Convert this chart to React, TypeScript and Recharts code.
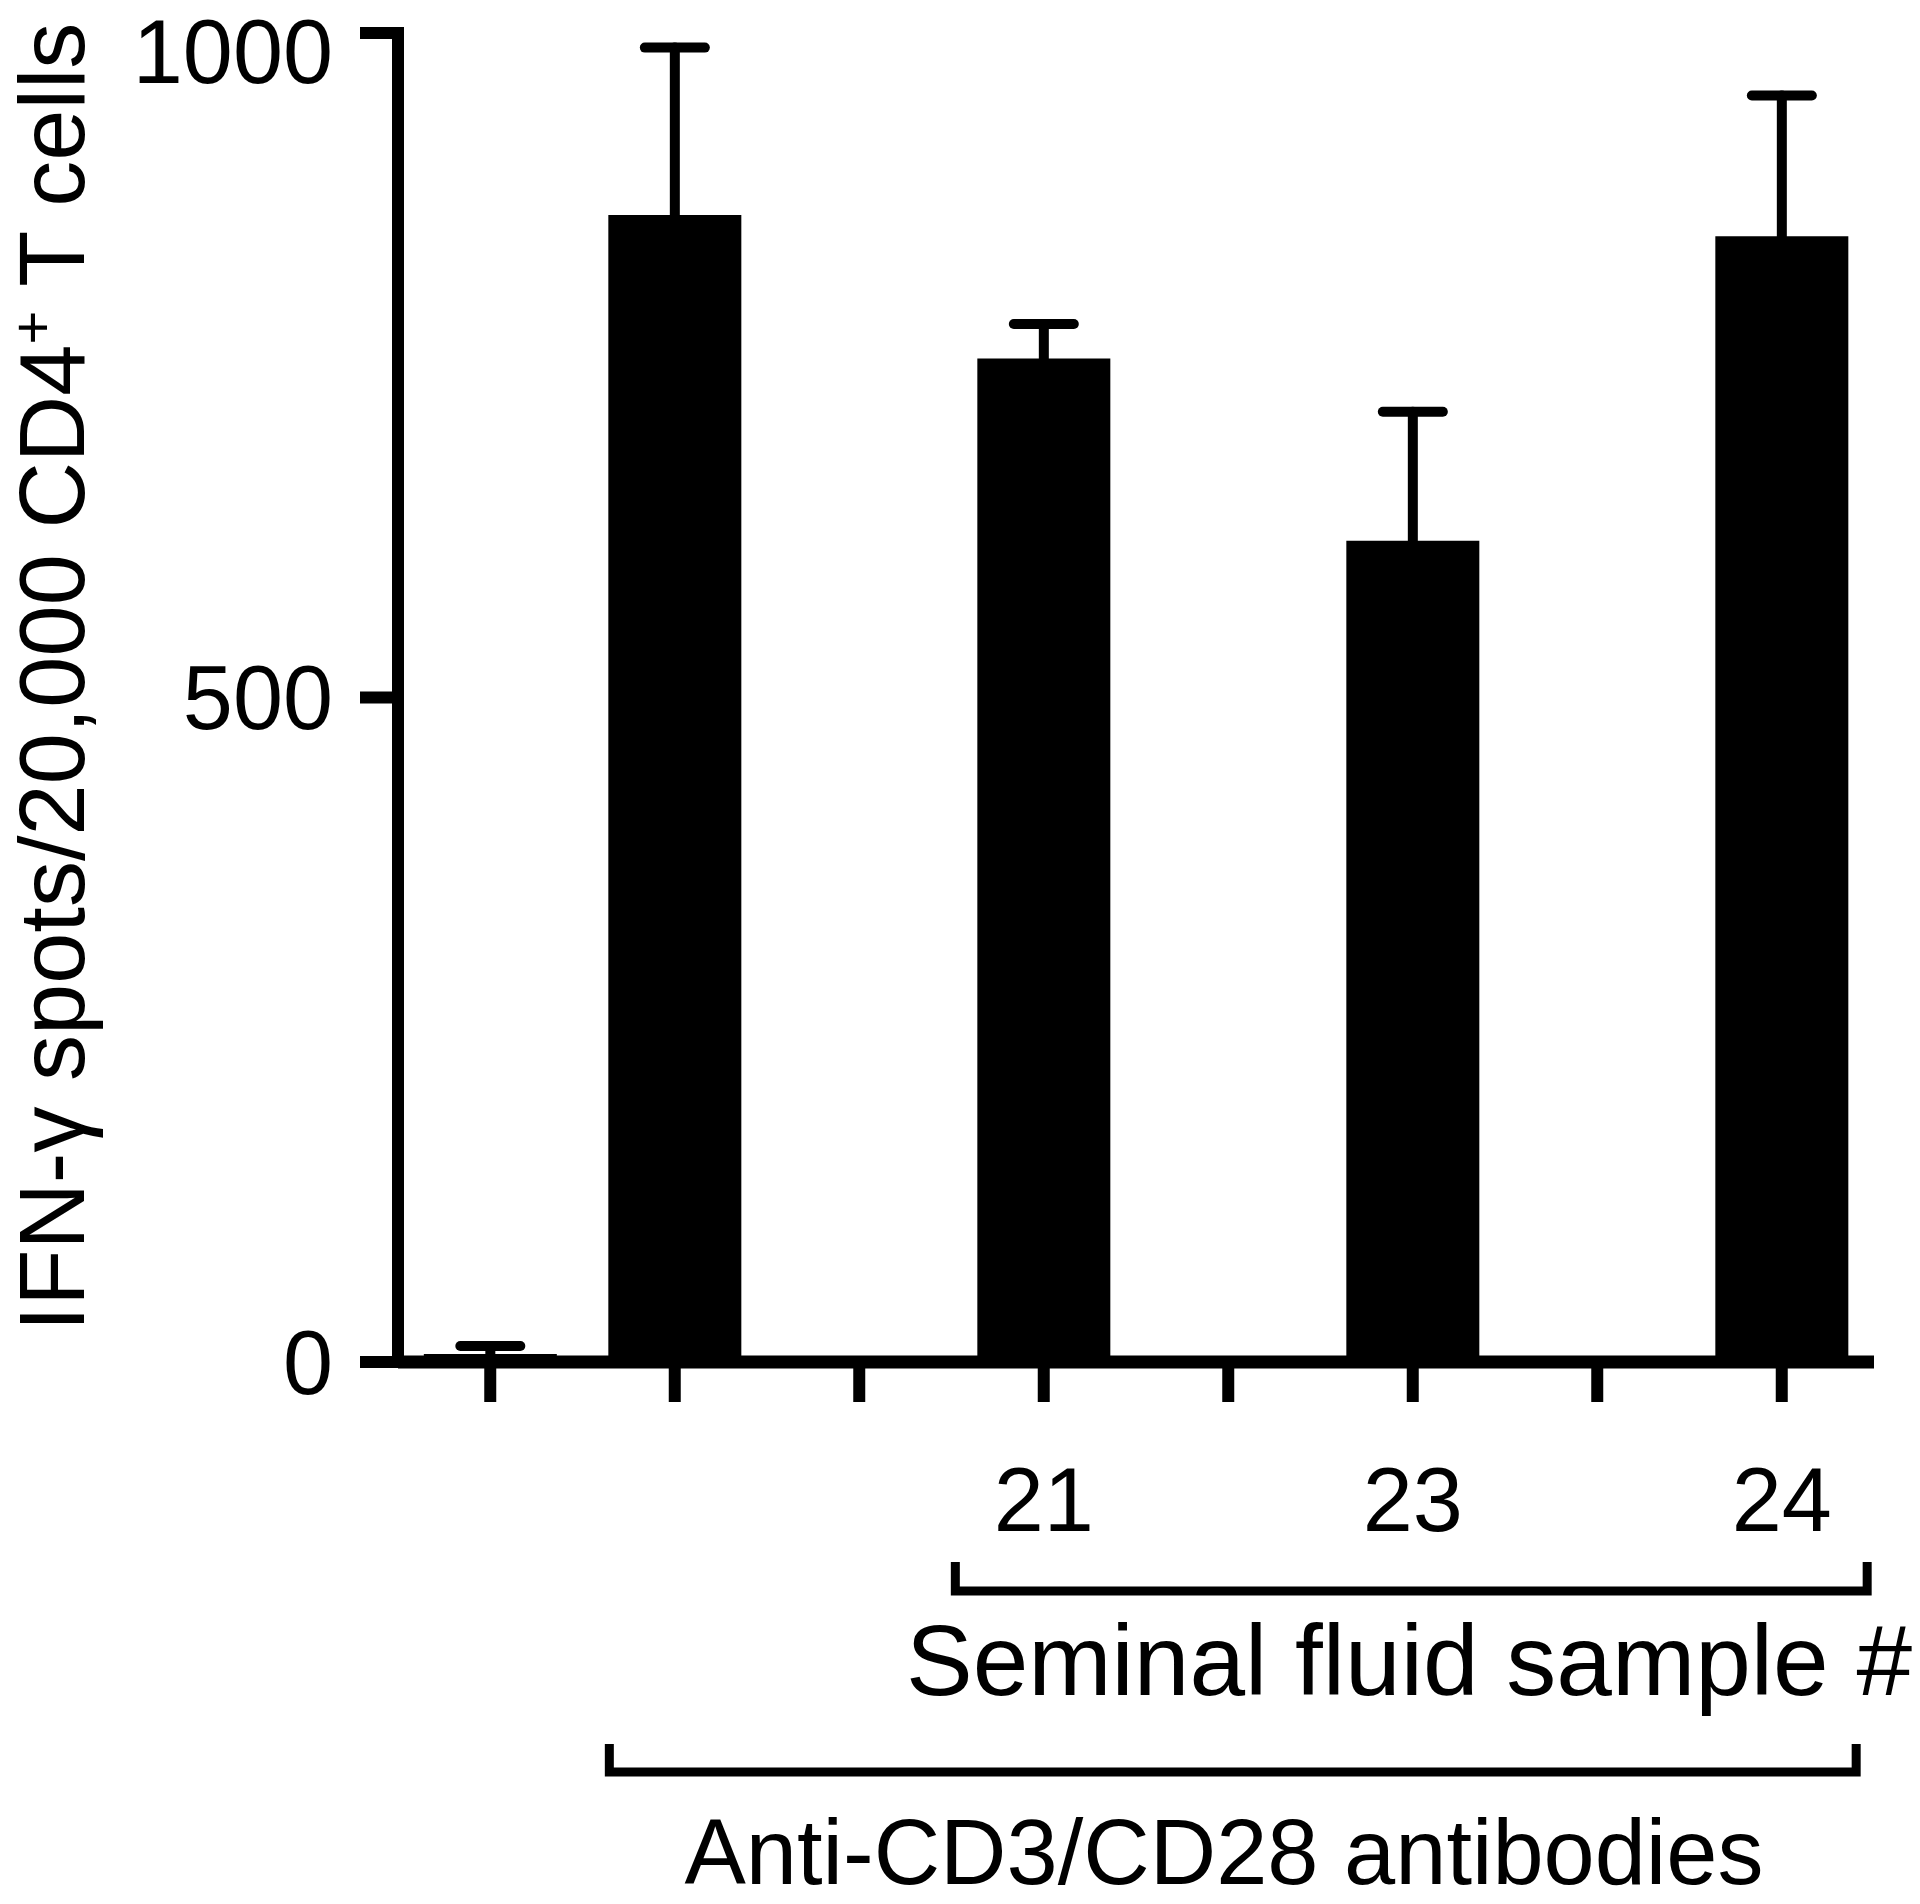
import { Bar, BarChart, ErrorBar, XAxis, YAxis } from "recharts";

const groups = ["Unstimulated", "Anti-CD3/CD28", "gap-a", "SF21", "gap-b", "SF23", "gap-c", "SF24"];
const tickLabels = ["", "", "", "21", "", "23", "", "24"];
const spots = [6, 863, null, 755, null, 618, null, 847];
const spotsErr = [6, 126, null, 26, null, 97, null, 106];
const yTicks = [0, 500, 1000];

const data = groups.map((g, i) => ({
  group: g,
  spots: spots[i],
  err: spotsErr[i] == null ? undefined : [0, spotsErr[i]],
}));

const W = 1920;
const H = 1904;
const FONT = '"Liberation Sans", Arial, Helvetica, sans-serif';

// plot box (also used for the brackets under the axis)
const PLOT_LEFT = 398;
const PLOT_RIGHT = 1874;
const PLOT_TOP = 33;
const PLOT_BOTTOM = 1362;
const BAND = (PLOT_RIGHT - PLOT_LEFT) / groups.length;
const SIDE_GAP = 0.14; // recharts puts this on each side of a bar
const barLeft = (i: number) => PLOT_LEFT + i * BAND + BAND * SIDE_GAP;
const barRight = (i: number) => barLeft(i) + BAND * (1 - 2 * SIDE_GAP);

function SampleTick({ x, y, payload }: any) {
  const label = tickLabels[groups.indexOf(payload.value)];
  if (!label) return null;
  return (
    <text x={x} y={y} dy={129} textAnchor="middle" fontSize={90} fontFamily={FONT} fill="#000">
      {label}
    </text>
  );
}

function YTitle() {
  return (
    <text
      x={84}
      y={677}
      transform="rotate(-90, 84, 677)"
      textAnchor="middle"
      fontSize={92}
      fontFamily={FONT}
      fill="#000"
    >
      IFN-γ spots/20,000 CD4
      <tspan baselineShift="super" fontSize={58}>+</tspan> T cells
    </text>
  );
}

function Brackets() {
  const semL = barLeft(3) - 22;
  const semR = barRight(7) + 19;
  const antiL = barLeft(1) + 1;
  const antiR = barRight(7) + 8;
  return (
    <svg
      width={W}
      height={H}
      style={{ position: "absolute", left: 0, top: 0, pointerEvents: "none" }}
    >
      <path d={`M${semL},1562 V1591 H${semR} V1562`} fill="none" stroke="#000" strokeWidth={9} />
      <text x={906} y={1695} fontSize={100} fontFamily={FONT} fill="#000">
        Seminal fluid sample #
      </text>
      <path d={`M${antiL},1744 V1772 H${antiR} V1744`} fill="none" stroke="#000" strokeWidth={9} />
      <text x={1224} y={1884} textAnchor="middle" fontSize={92} fontFamily={FONT} fill="#000">
        Anti-CD3/CD28 antibodies
      </text>
    </svg>
  );
}

export default function App() {
  return (
    <div style={{ position: "absolute", left: 0, top: 0, width: W, height: H, background: "#fff" }}>
      <style>{`.recharts-errorBar line:nth-child(3){display:none}`}</style>
      <BarChart
        width={W}
        height={H}
        data={data}
        margin={{ top: PLOT_TOP, right: W - PLOT_RIGHT, left: 0, bottom: H - PLOT_BOTTOM - 200 }}
        barCategoryGap={`${SIDE_GAP * 100}%`}
      >
        <XAxis
          dataKey="group"
          height={200}
          interval={0}
          tickSize={40}
          tickMargin={0}
          tick={<SampleTick />}
          axisLine={{ stroke: "#000", strokeWidth: 13 }}
          tickLine={{ stroke: "#000", strokeWidth: 12 }}
        />
        <YAxis
          width={PLOT_LEFT}
          domain={[0, 1000]}
          ticks={yTicks}
          allowDataOverflow
          tickSize={38}
          tickMargin={27}
          tick={{ fontSize: 90, fontFamily: FONT, fill: "#000" }}
          axisLine={{ stroke: "#000", strokeWidth: 12, strokeLinecap: "square" }}
          tickLine={{ stroke: "#000", strokeWidth: 12 }}
          label={<YTitle />}
        />
        <Bar dataKey="spots" fill="#000" isAnimationActive={false}>
          <ErrorBar
            dataKey="err"
            direction="y"
            width={30}
            stroke="#000"
            strokeWidth={10}
            strokeLinecap="round"
            isAnimationActive={false}
          />
        </Bar>
      </BarChart>
      <Brackets />
    </div>
  );
}
